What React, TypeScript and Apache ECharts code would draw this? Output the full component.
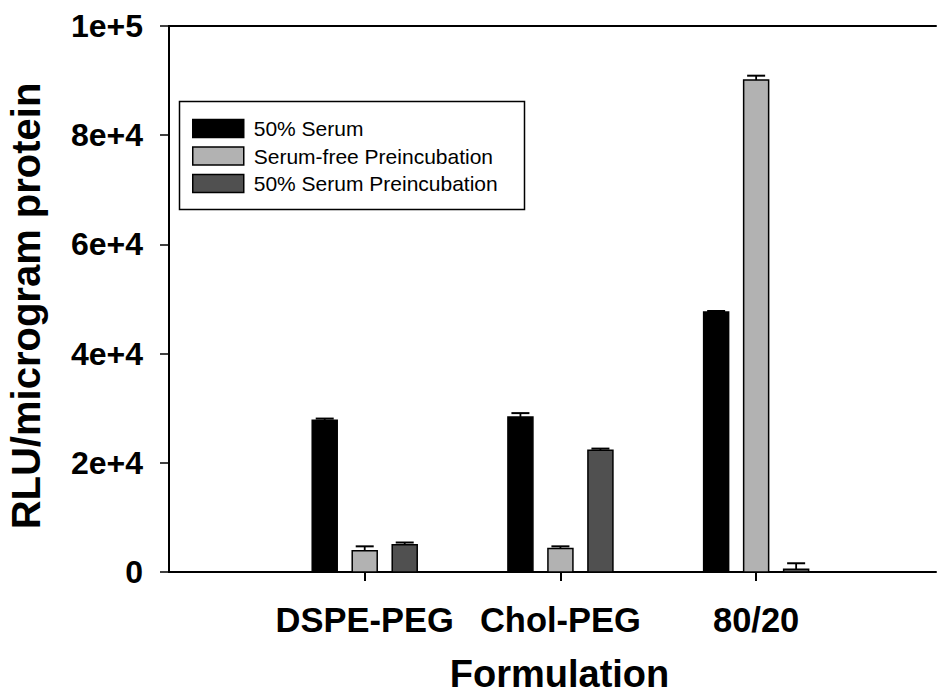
import React, { useEffect, useRef } from "react";
import * as echarts from "echarts";

const categories = ["DSPE-PEG", "Chol-PEG", "80/20"];
const seriesNames = ["50% Serum", "Serum-free Preincubation", "50% Serum Preincubation"];
const serum50 = [27800, 28400, 47600];
const serum50Err = [300, 700, 200];
const serumFree = [3900, 4300, 90100];
const serumFreeErr = [800, 400, 800];
const serum50Pre = [5000, 22300, 500];
const serum50PreErr = [400, 300, 1100];
const yTicks = [0, 20000, 40000, 60000, 80000, 100000];
const yTickLabels = ["0", "2e+4", "4e+4", "6e+4", "8e+4", "1e+5"];

const colors = ["#000000", "#b2b2b2", "#505050"];
const offsets = [-40, 0, 40];
const FONT = "'Liberation Sans', Arial, sans-serif";

export default function App() {
  const ref = useRef<HTMLDivElement>(null);
  useEffect(() => {
    if (!ref.current) return;
    const chart = echarts.init(ref.current, null, { renderer: "svg" });
    const allVals = [serum50, serumFree, serum50Pre];
    const allErrs = [serum50Err, serumFreeErr, serum50PreErr];
    const series = seriesNames.map((name, s) => ({
      name,
      type: "custom",
      itemStyle: { color: colors[s], borderColor: "#000", borderWidth: 1.5 },
      data: categories.map((_, i) => [i + 1, allVals[s][i], allErrs[s][i]]),
      renderItem: (params: any, api: any) => {
        const x = api.value(0);
        const v = api.value(1);
        const e = api.value(2);
        const base = api.coord([x, 0]);
        const top = api.coord([x, v]);
        const et = api.coord([x, v + e]);
        const cx = base[0] + offsets[s];
        const w = 25;
        return {
          type: "group",
          children: [
            {
              type: "rect",
              shape: { x: cx - w / 2, y: top[1], width: w, height: base[1] - top[1] },
              style: { fill: colors[s], stroke: "#000", lineWidth: 1.5 },
            },
            {
              type: "line",
              shape: { x1: cx, y1: top[1], x2: cx, y2: et[1] },
              style: { stroke: "#000", lineWidth: 1.8 },
            },
            {
              type: "line",
              shape: { x1: cx - 9, y1: et[1], x2: cx + 9, y2: et[1] },
              style: { stroke: "#000", lineWidth: 2 },
            },
          ],
        };
      },
    }));

    chart.setOption({
      animation: false,
      backgroundColor: "#ffffff",
      textStyle: { fontFamily: FONT },
      grid: { left: 169, top: 26, width: 767, height: 546, outerBoundsMode: "none", containLabel: false },
      legend: {
        orient: "vertical",
        left: 192,
        top: 118,
        padding: 0,
        itemWidth: 51,
        itemHeight: 18,
        itemGap: 6.5,
        icon: "rect",
        data: seriesNames,
        itemStyle: { borderColor: "#000", borderWidth: 1.5 },
        textStyle: { fontFamily: FONT, fontSize: 21, lineHeight: 18, color: "#000", padding: [0, 0, 0, 5] },
        selectedMode: false,
      },
      graphic: [
        {
          type: "rect",
          left: 177,
          top: 99,
          shape: { width: 345, height: 108 },
          style: { fill: "none", stroke: "#000", lineWidth: 1.5 },
          z: 10,
        },
      ],
      xAxis: [
        {
          type: "value",
          position: "bottom",
          min: 0,
          max: 3.919,
          splitLine: { show: false },
          axisLine: { show: true, onZero: false, lineStyle: { color: "#000", width: 2 } },
          axisTick: { show: true, customValues: [1, 2, 3], length: 9, lineStyle: { color: "#000", width: 2 } },
          axisLabel: {
            customValues: [1, 2, 3],
            formatter: (v: number) => categories[Math.round(v) - 1] ?? "",
            margin: 30,
            fontFamily: FONT,
            fontWeight: "bold",
            fontSize: 34.5,
            color: "#000",
          },
          name: "Formulation",
          nameLocation: "middle",
          nameGap: 83,
          nameTextStyle: { fontFamily: FONT, fontWeight: "bold", fontSize: 38, color: "#000", padding: [0, 0, 0, 14] },
        },
        {
          type: "value",
          position: "top",
          min: 0,
          max: 3.919,
          splitLine: { show: false },
          axisLine: { show: true, onZero: false, lineStyle: { color: "#000", width: 2 } },
          axisTick: { show: false },
          axisLabel: { show: false },
        },
      ],
      yAxis: {
        type: "value",
        min: 0,
        max: 100000,
        interval: 20000,
        splitLine: { show: false },
        axisLine: { show: true, lineStyle: { color: "#000", width: 2 } },
        axisTick: { show: true, length: 9, lineStyle: { color: "#000", width: 1.5 } },
        axisLabel: {
          formatter: (v: number) => {
            const i = yTicks.indexOf(v);
            return i >= 0 ? yTickLabels[i] : "";
          },
          margin: 26,
          fontFamily: FONT,
          fontWeight: "bold",
          fontSize: 32,
          color: "#000",
        },
        name: "RLU/microgram protein",
        nameLocation: "middle",
        nameGap: 123,
        nameTextStyle: { fontFamily: FONT, fontWeight: "bold", fontSize: 40, color: "#000", padding: [0, 14, 0, 0] },
      },
      series,
    });
    return () => chart.dispose();
  }, []);
  return <div ref={ref} style={{ width: 938, height: 696, position: "absolute", left: 0, top: 0 }} />;
}
